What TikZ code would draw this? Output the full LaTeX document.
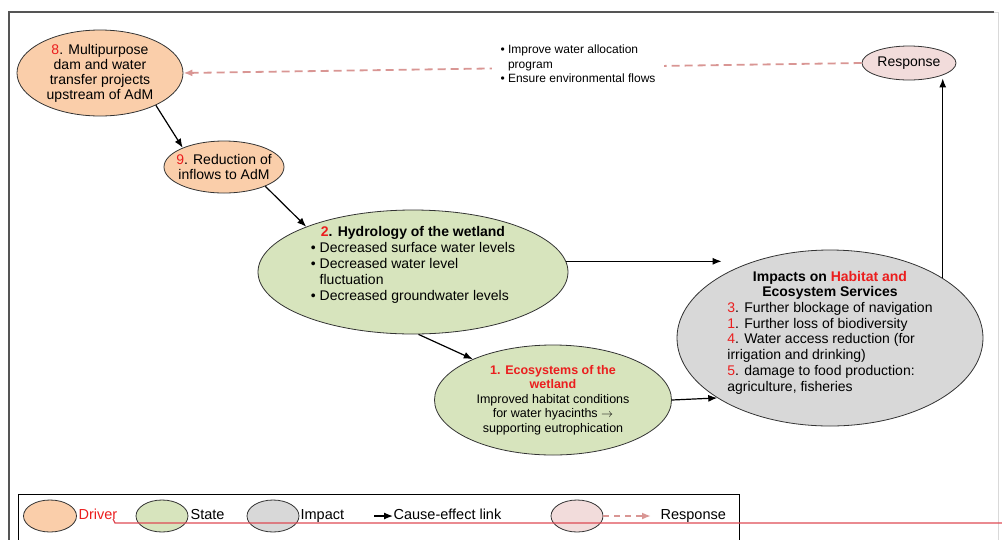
\documentclass[tikz,border=0pt]{standalone}
\usepackage{fontspec}
\setmainfont{Liberation Sans}
\usetikzlibrary{shapes.geometric,arrows.meta}
\definecolor{driverfill}{RGB}{250,206,170}
\definecolor{statefill}{RGB}{215,228,189}
\definecolor{impactfill}{RGB}{216,216,216}
\definecolor{responsefill}{RGB}{242,220,219}
\definecolor{responseline}{RGB}{217,150,148}
\definecolor{numred}{RGB}{235,30,30}
\definecolor{markline}{RGB}{222,75,85}
\definecolor{framegray}{RGB}{85,85,85}
\newcommand{\rednum}[1]{\textcolor{numred}{#1}}
\def\legy{516}

\begin{document}
\begin{tikzpicture}[x=1pt,y=-1pt,->,>={Latex[length=9pt,width=7pt]},line width=1.2pt]
	\tikzstyle{dpsir}=[ellipse,draw=black!80,line width=0.8pt,inner sep=-8pt,align=center,font=\fontsize{14}{15}\selectfont]
	\tikzstyle{driver}=[dpsir,fill=driverfill]
	\tikzstyle{state}=[dpsir,fill=statefill]
	\tikzstyle{impact}=[dpsir,fill=impactfill]
	\tikzstyle{response}=[dpsir,fill=responsefill]
	\tikzstyle{link}=[->,black]
	\tikzstyle{reply}=[->,draw=responseline,line width=1.8pt,dash pattern=on 8pt off 5pt]
	\tikzstyle{legtext}=[anchor=west,inner sep=0pt,text height=10.5pt,text depth=3pt,font=\fontsize{14.5}{16}\selectfont]

	\useasboundingbox (0,0) rectangle (1002,539);
	% outer frame
	\draw[-,framegray,line width=1.5pt] (9,545) -- (9,12) -- (994,12);
	\draw[-,black!15,line width=0.8pt] (994,12) -- (998,12) -- (998,545);

	% drivers
	\node[driver,minimum width=166pt,minimum height=86pt] (D-8) at (100,73) {\rednum{8}. Multipurpose\\dam and water\\transfer projects\\upstream of AdM};
	\node[driver,minimum width=120pt,minimum height=52pt] (D-9) at (224,167) {\rednum{9}. Reduction of\\inflows to AdM};

	% states
	\node[state,minimum width=310pt,minimum height=124pt] (S-2) at (413,272) {\raisebox{7pt}[\height][\depth]{\fontsize{14}{16}\selectfont\begin{tabular}{@{}l@{}}
		\multicolumn{1}{@{}c@{}}{\textbf{\rednum{2}. Hydrology of the wetland}}\\
		\textbullet\ Decreased surface water levels\\
		\textbullet\ Decreased water level\\
		\phantom{\textbullet\ }fluctuation\\
		\textbullet\ Decreased groundwater levels
	\end{tabular}}};
	\node[state,minimum width=237pt,minimum height=110pt,font=\fontsize{12.5}{14.5}\selectfont] (S-1) at (553,400) {\textcolor{numred}{\textbf{1. Ecosystems of the}}\\\textcolor{numred}{\textbf{wetland}}\\Improved habitat conditions\\for water hyacinths $\rightarrow$\\supporting eutrophication};

	% impact
	\node[impact,minimum width=306pt,minimum height=176pt] (I-1) at (830,338) {\raisebox{5pt}[\height][\depth]{\fontsize{14}{15.7}\selectfont\begin{tabular}{@{}l@{}}
		\multicolumn{1}{@{}c@{}}{\textbf{Impacts on \rednum{Habitat and}}}\\
		\multicolumn{1}{@{}c@{}}{\textbf{Ecosystem Services}}\\
		\rednum{3}. Further blockage of navigation\\
		\rednum{1}. Further loss of biodiversity\\
		\rednum{4}. Water access reduction (for\\
		irrigation and drinking)\\
		\rednum{5}. damage to food production:\\
		agriculture, fisheries
	\end{tabular}}};

	% response
	\node[response,minimum width=94pt,minimum height=34pt] (R-1) at (909,63) {Response};

	% links
	\draw[link] (D-8.-30) -- (D-9.155);
	\draw[link] (D-9.-25) -- (S-2.157);
	\draw[link] (S-2.-85) -- (S-1.153);
	\draw[link] (S-2.4) -- (S-2.4 -| I-1.150);
	\draw[link] (S-1.east) -- (I-1.208);
	\draw[link] (I-1.28) -- (I-1.28 |- R-1.-35);
	\draw[reply] (R-1.west) -- (D-8.east);
	\node[fill=white,inner xsep=9pt,inner ysep=2pt,align=left,font=\fontsize{12}{14.5}\selectfont] (R-txt) at (578,64) {\textbullet\ Improve water allocation\\\phantom{\textbullet\ }program\\\textbullet\ Ensure environmental flows};

	% legend
	\draw[-,black,line width=0.8pt] (18,545) -- (18,494) -- (739,494) -- (739,545);
	\node[driver,minimum width=53pt,minimum height=32pt] (L-D) at (50,\legy) {};
	\node[legtext,text=numred] (L-Dt) at (78,\legy) {Driver};
	\node[state,minimum width=52pt,minimum height=32pt] (L-S) at (162,\legy) {};
	\node[legtext] (L-St) at (190,\legy) {State};
	\node[impact,minimum width=52pt,minimum height=32pt] (L-I) at (273,\legy) {};
	\node[legtext] (L-It) at (300,\legy) {Impact};
	\coordinate (L-a) at (374,\legy);
	\node[legtext] (L-Ct) at (393,\legy) {Cause-effect link};
	\draw[link] (L-a) -- (L-Ct.west);
	\node[response,minimum width=52pt,minimum height=32pt] (L-R) at (577,\legy) {};
	\node[legtext] (L-Rt) at (660,\legy) {Response};
	\draw[reply,dash pattern=on 6pt off 5pt,shorten >=9pt] (L-R.east) -- (L-Rt.west);

	% red mark across the legend
	\draw[-,markline,line width=1.3pt] (113,519) -- (115,523) -- (1002,523);
\end{tikzpicture}
\end{document}
